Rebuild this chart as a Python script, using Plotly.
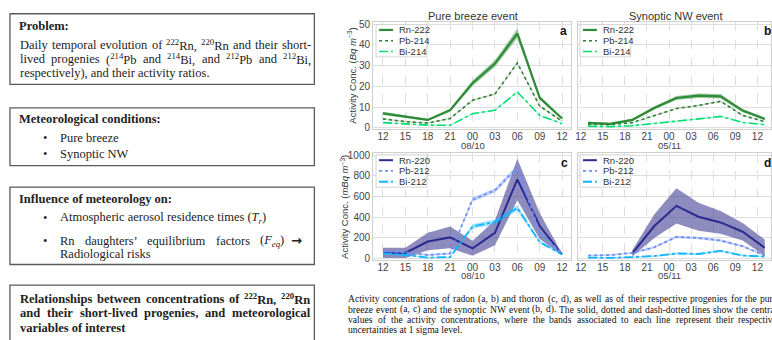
import re
import plotly.graph_objects as go

W, H = 772, 340

# ---------------- data ----------------
tick_hours = [0, 3, 6, 9, 12, 15, 18, 21, 24]
tick_labels = ["12", "15", "18", "21", "00", "03", "06", "09", "12"]

# Pure breeze event (hours after 12:00 of 07/10)
hours_pb = [0, 3, 6, 9, 12, 15, 18, 21, 24]
# Synoptic NW event (hours after 12:00 of 04/11)
hours_nw = [1, 4, 7, 10, 13, 16, 19, 22, 25]

# radon family (Bq m-3)
rn222_a = [7.0, 5.3, 3.8, 8.5, 21.5, 31.0, 45.5, 14.5, 4.5]
rn222_a_u = [0.8, 0.6, 0.5, 0.8, 1.3, 1.6, 2.3, 1.0, 0.5]
pb214_a = [4.3, 3.0, 2.3, 4.5, 13.3, 16.3, 31.3, 10.5, 3.2]
pb214_a_u = [0.3, 0.3, 0.3, 0.3, 0.4, 0.4, 0.5, 0.4, 0.3]
bi214_a = [2.5, 2.0, 1.3, 1.2, 6.8, 8.5, 17.3, 6.0, 2.0]
bi214_a_u = [0.2, 0.2, 0.2, 0.2, 0.3, 0.3, 0.4, 0.3, 0.2]

rn222_b = [2.4, 1.9, 3.8, 9.6, 14.4, 15.5, 15.2, 8.3, 4.3]
rn222_b_u = [0.5, 0.5, 0.6, 0.8, 1.0, 1.1, 1.1, 0.8, 0.6]
pb214_b = [1.8, 1.5, 2.5, 6.0, 9.3, 10.8, 12.8, 6.0, 3.0]
pb214_b_u = [0.2, 0.2, 0.2, 0.3, 0.3, 0.3, 0.4, 0.3, 0.2]
bi214_b = [0.8, 0.6, 1.0, 2.0, 3.3, 4.3, 5.5, 2.6, 1.5]
bi214_b_u = [0.2, 0.2, 0.2, 0.2, 0.2, 0.3, 0.3, 0.2, 0.2]

# thoron family (mBq m-3)
rn220_c = [55, 55, 165, 205, 100, 250, 765, 315, 40]
rn220_c_u = [50, 50, 85, 105, 72, 120, 200, 125, 10]
pb212_c = [75, 60, 35, 50, 570, 660, 880, 250, 50]
pb212_c_u = [10, 10, 10, 10, 20, 20, 25, 12, 6]
bi212_c = [50, 35, 10, 15, 310, 355, 490, 160, 40]
bi212_c_u = [10, 8, 6, 6, 22, 22, 28, 12, 6]

rn220_d = [None, None, 50, 315, 510, 405, 350, 260, 105]
rn220_d_u = [None, None, 30, 115, 170, 135, 110, 85, 80]
pb212_d = [30, 35, 55, 110, 210, 200, 175, 120, 30]
pb212_d_u = [8, 8, 8, 10, 12, 12, 12, 10, 8]
bi212_d = [10, 8, 15, 25, 50, 45, 75, 30, 20]
bi212_d_u = [6, 6, 6, 8, 10, 10, 10, 8, 6]

radon_names = ["Rn-222", "Pb-214", "Bi-214"]
thoron_names = ["Rn-220", "Pb-212", "Bi-212"]

# ---------------- styles ----------------
C_RN222 = "#2e8b37"
C_PB214 = "#2e7d32"
C_BI214 = "#00e072"
C_RN220 = "#2b2b8f"
C_PB212 = "#6b8ff5"
C_BI212 = "#12b5ff"
RADON_STYLE = [(C_RN222, "solid", 2.2), (C_PB214, "dot", 1.6), (C_BI214, "dashdot", 1.6)]
THORON_STYLE = [(C_RN220, "solid", 2.0), (C_PB212, "dot", 1.8), (C_BI212, "dashdot", 1.8)]

fig = go.Figure()


def px(x):
    return x / W


def py(y):
    return 1 - y / H


def add_series(x, y, u, xa, ya, name, style, band):
    color, dash, width = style
    pts = [(xi, yi, ui) for xi, yi, ui in zip(x, y, u) if yi is not None]
    xs = [p[0] for p in pts]
    ys = [p[1] for p in pts]
    us = [p[2] for p in pts]
    fig.add_trace(go.Scatter(x=xs, y=[a + b for a, b in zip(ys, us)], xaxis=xa, yaxis=ya,
                             mode="lines", line=dict(width=0), showlegend=False,
                             hoverinfo="skip"))
    fig.add_trace(go.Scatter(x=xs, y=[a - b for a, b in zip(ys, us)], xaxis=xa, yaxis=ya,
                             mode="lines", line=dict(width=0), fill="tonexty",
                             fillcolor=band, showlegend=False, hoverinfo="skip"))
    fig.add_trace(go.Scatter(x=xs, y=ys, xaxis=xa, yaxis=ya, mode="lines", name=name,
                             line=dict(color=color, dash=dash, width=width), showlegend=False))


BAND_RADON = ["rgba(46,139,55,0.45)", "rgba(46,125,50,0.3)", "rgba(0,224,114,0.35)"]
BAND_THORON = ["rgba(72,70,150,0.62)", "rgba(107,143,245,0.4)", "rgba(18,181,255,0.4)"]

for i, (v, u) in enumerate([(rn222_a, rn222_a_u), (pb214_a, pb214_a_u), (bi214_a, bi214_a_u)]):
    add_series(hours_pb, v, u, "x", "y", radon_names[i], RADON_STYLE[i], BAND_RADON[i])
for i, (v, u) in enumerate([(rn222_b, rn222_b_u), (pb214_b, pb214_b_u), (bi214_b, bi214_b_u)]):
    add_series(hours_nw, v, u, "x2", "y2", radon_names[i], RADON_STYLE[i], BAND_RADON[i])
for i, (v, u) in enumerate([(rn220_c, rn220_c_u), (pb212_c, pb212_c_u), (bi212_c, bi212_c_u)]):
    add_series(hours_pb, v, u, "x3", "y3", thoron_names[i], THORON_STYLE[i], BAND_THORON[i])
for i, (v, u) in enumerate([(rn220_d, rn220_d_u), (pb212_d, pb212_d_u), (bi212_d, bi212_d_u)]):
    add_series(hours_nw, v, u, "x4", "y4", thoron_names[i], THORON_STYLE[i], BAND_THORON[i])

TICKFONT = dict(family="Liberation Sans, Arial", size=10, color="#444")
DATEFONT = dict(family="Liberation Sans, Arial", size=9.5, color="#444")
GRID = "#dedede"
FRAME = "#cfcfcf"

xa_common = dict(tickvals=tick_hours, ticktext=tick_labels, showgrid=True, gridcolor=GRID,
                 griddash="dash", gridwidth=1, showline=True, linecolor=FRAME, mirror=True,
                 zeroline=False, ticks="", tickfont=TICKFONT, fixedrange=True, ticklabelstandoff=-2)
ya_common = dict(showgrid=True, gridcolor=GRID, gridwidth=1, showline=True, linecolor=FRAME,
                 mirror=True, zeroline=False, ticks="", tickfont=TICKFONT, fixedrange=True)

dom_left = [px(372), px(571)]
dom_right = [px(578), 1.0]
dom_top = [py(128.5), py(19.5)]
dom_bot = [py(262.7), py(152.7)]

fig.update_layout(
    width=W, height=H, margin=dict(l=0, r=0, t=0, b=0),
    paper_bgcolor="white", plot_bgcolor="white", showlegend=False,
    xaxis=dict(domain=dom_left, anchor="y", range=[-1.33, 25.2], **xa_common),
    yaxis=dict(domain=dom_top, anchor="x", range=[-0.5, 51.0], tickvals=[0, 10, 20, 30, 40, 50], **ya_common),
    xaxis2=dict(domain=dom_right, anchor="y2", range=[-0.37, 25.85], **xa_common),
    yaxis2=dict(domain=dom_top, anchor="x2", range=[-0.5, 51.0], tickvals=[0, 10, 20, 30, 40, 50],
                showticklabels=False, **ya_common),
    xaxis3=dict(domain=dom_left, anchor="y3", range=[-1.33, 25.2], **xa_common),
    yaxis3=dict(domain=dom_bot, anchor="x3", range=[-16, 1025], tickvals=[0, 200, 400, 600, 800, 1000], **ya_common),
    xaxis4=dict(domain=dom_right, anchor="y4", range=[-0.37, 25.85], **xa_common),
    yaxis4=dict(domain=dom_bot, anchor="x4", range=[-16, 1025], tickvals=[0, 200, 400, 600, 800, 1000],
                showticklabels=False, **ya_common),
)

ann = []
shapes = []
SANS = "Liberation Sans, Arial"
SERIF = "Liberation Serif, Times New Roman"


def A(x, y, text, size=12, family=SERIF, color="#222", xanchor="left", **kw):
    ann.append(dict(x=px(x), y=py(y), xref="paper", yref="paper", text=text, showarrow=False,
                    xanchor=xanchor, yanchor="middle", font=dict(family=family, size=size, color=color), **kw))


# ---------------- legends (keys drawn per panel) ----------------
LEGFONT = 9.5
for (lx, ly, names, styles) in [(375, 22, radon_names, RADON_STYLE), (580, 22, radon_names, RADON_STYLE),
                                (375, 155, thoron_names, THORON_STYLE), (580, 155, thoron_names, THORON_STYLE)]:
    shapes.append(dict(type="rect", xref="paper", yref="paper", x0=px(lx), x1=px(lx + 51),
                       y0=py(ly + 33), y1=py(ly), line=dict(color="#d4d4d4", width=1),
                       fillcolor="rgba(255,255,255,0.85)", layer="above"))
    for k, (nm, (col, dash, wd)) in enumerate(zip(names, styles)):
        yy = ly + 5.5 + 11 * k
        shapes.append(dict(type="line", xref="paper", yref="paper", x0=px(lx + 3), x1=px(lx + 17),
                           y0=py(yy), y1=py(yy), line=dict(color=col, dash=dash, width=wd), layer="above"))
        A(lx + 21, yy, nm, size=LEGFONT, family=SANS, color="#333")

# chart titles and panel letters
A(472, 13.5, "Pure breeze event", size=11, family=SANS, color="#333", xanchor="center")
A(677, 13.5, "Synoptic NW event", size=11, family=SANS, color="#333", xanchor="center")
for (x, y, t) in [(563, 29, "a"), (768, 29, "b"), (564, 163, "c"), (768, 163, "d")]:
    A(x, y, "<b>%s</b>" % t, size=12, family=SANS, color="#111", xanchor="center")

A(351, 74, "Activity Conc. (<i>Bq m</i><sup>−3</sup>)", size=9.5, family=SANS, color="#333",
  xanchor="center", textangle=-90)
A(343, 208, "Activity Conc. (<i>mBq m</i><sup>−3</sup>)", size=9.5, family=SANS, color="#333",
  xanchor="center", textangle=-90)

# date labels under the midnight ticks
for xa, yy, txt in [("x", 146, "08/10"), ("x2", 146, "05/11"), ("x3", 278, "08/10"), ("x4", 278, "05/11")]:
    ann.append(dict(x=12, xref=xa, y=py(yy), yref="paper", text=txt, showarrow=False,
                    xanchor="center", yanchor="middle", font=DATEFONT))

# ---------------- justified serif text helpers ----------------
TR = {' ': 250, 'a': 444, 'b': 500, 'c': 444, 'd': 500, 'e': 444, 'f': 333, 'g': 500, 'h': 500, 'i': 278,
      'j': 278, 'k': 500, 'l': 278, 'm': 778, 'n': 500, 'o': 500, 'p': 500, 'q': 500, 'r': 333, 's': 389,
      't': 278, 'u': 500, 'v': 500, 'w': 722, 'x': 500, 'y': 500, 'z': 444, 'A': 722, 'B': 667, 'C': 667,
      'D': 722, 'E': 611, 'F': 556, 'N': 722, 'P': 556, 'R': 667, 'S': 556, 'T': 611, 'W': 944,
      ',': 250, '.': 250, '-': 333, '(': 333, ')': 333, ':': 278, '’': 333, '→': 1000}
TB = {' ': 250, 'a': 500, 'b': 556, 'c': 444, 'd': 556, 'e': 444, 'f': 333, 'g': 500, 'h': 556, 'i': 278,
      'j': 333, 'k': 556, 'l': 278, 'm': 833, 'n': 556, 'o': 500, 'p': 556, 'q': 556, 'r': 444, 's': 389,
      't': 333, 'u': 556, 'v': 500, 'w': 722, 'x': 500, 'y': 500, 'z': 444, 'R': 722, ',': 250, '.': 250,
      '-': 333, ':': 333}


def width(word, size, bold=False):
    tab = TB if bold else TR
    total = 0.0
    for m in re.finditer(r"<(sup|sub)>(.*?)</\1>|<[^>]+>|([^<]+)", word):
        if m.group(1):
            total += sum(tab.get(ch, 500) for ch in m.group(2)) * 0.7
        elif m.group(3):
            total += sum(tab.get(ch, 500) for ch in m.group(3))
    return total * size / 1000.0


def justify(line, x0, x1, y, size, bold=False, color="#222"):
    words = line.split(" ")
    ws = [width(w, size, bold) for w in words]
    gap = (x1 - x0 - sum(ws)) / (len(words) - 1)
    gap = max(gap, 0.25 * size)
    x = x0
    for w, wd in zip(words, ws):
        A(x, y, "<b>%s</b>" % w if bold else w, size=size, color=color)
        x += wd + gap


# ---------------- left text boxes ----------------
for (y0, y1) in [(11, 83), (107, 166), (188, 267), (288, 350)]:
    shapes.append(dict(type="rect", xref="paper", yref="paper", x0=px(7), x1=px(313),
                       y0=py(y1), y1=py(y0), line=dict(color="#5a5a5a", width=1.3)))

FS = 12.5
A(14, 23, "<b>Problem:</b>", size=FS)
justify("Daily temporal evolution of <sup>222</sup>Rn, <sup>220</sup>Rn and their short-", 15, 308, 42.5, FS)
justify("lived progenies (<sup>214</sup>Pb and <sup>214</sup>Bi, and <sup>212</sup>Pb and <sup>212</sup>Bi,",
        15, 308, 57, FS)
A(15, 71.5, "respectively), and their activity ratios.", size=FS)

A(14, 118, "<b>Meteorological conditions:</b>", size=FS)
A(38, 138, "•", size=FS)
A(55, 138, "Pure breeze", size=FS)
A(38, 154, "•", size=FS)
A(55, 154, "Synoptic NW", size=FS)

A(14, 200, "<b>Influence of meteorology on:</b>", size=FS)
A(38, 220, "•", size=FS)
A(55, 220, "Atmospheric aerosol residence times (<i>T<sub>r</sub></i>)", size=FS)
A(38, 243, "•", size=FS)
justify("Rn daughters’ equilibrium factors (<i>F<sub>eq</sub></i>)", 55, 280, 243, FS)
A(303, 242.5, "<b>→</b>", size=13, family="DejaVu Sans", color="#222", xanchor="right")
A(55, 256.5, "Radiological risks", size=FS)

justify("Relationships between concentrations of <sup>222</sup>Rn, <sup>220</sup>Rn", 15, 307, 302, FS, bold=True)
justify("and their short-lived progenies, and meteorological", 15, 307, 317, FS, bold=True)
A(15, 332, "<b>variables of interest</b>", size=FS)

# ---------------- caption ----------------
CAP = 9.6
justify("Activity concentrations of radon (a, b) and thoron (c, d), as well as of their respective progenies for the pure",
        345, 776, 302, CAP, color="#111")
justify("breeze event (a, c) and the synoptic NW event (b, d). The solid, dotted and dash-dotted lines show the central",
        345, 776, 312.5, CAP, color="#111")
justify("values of the activity concentrations, where the bands associated to each line represent their respective",
        345, 776, 323, CAP, color="#111")
A(345, 333.5, "uncertainties at 1 sigma level.", size=CAP, color="#111")

fig.update_layout(annotations=ann, shapes=shapes)
fig.write_html("out.html")
